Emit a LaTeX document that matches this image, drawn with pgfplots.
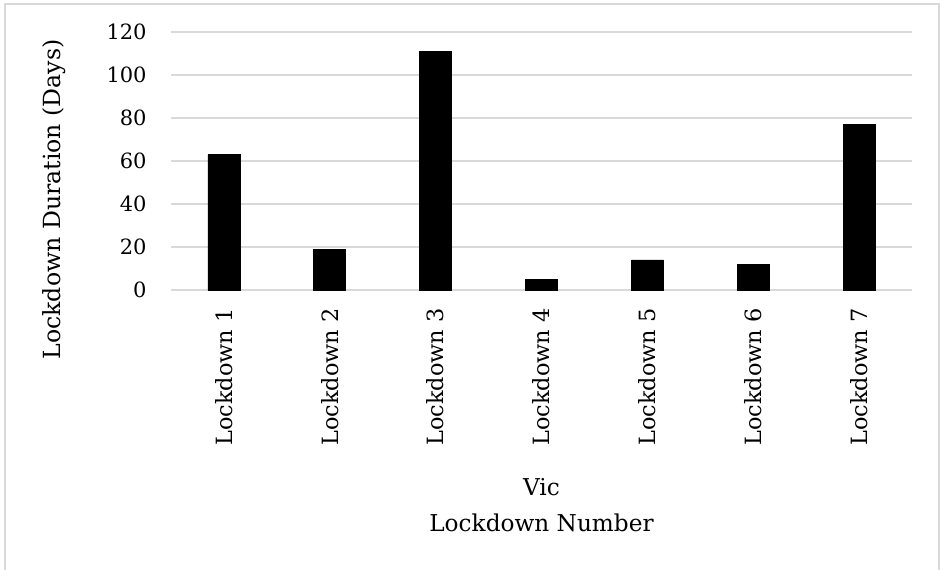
\documentclass[border=0pt]{standalone}
\usepackage{pgfplots}
\pgfplotsset{compat=1.18}
\usepackage{fontspec}
\setmainfont{DejaVu Serif}
\definecolor{gridgray}{HTML}{D9D9D9}
\begin{document}
\begin{tikzpicture}[x=1pt,y=1pt]
% page extent and chart-area frame
\path[use as bounding box] (-85.5,-139.5) rectangle (384.5,145);
\draw[gridgray, line width=0.9pt] (-83,-140) -- (-83,143) -- (384,143) -- (384,-140);
\begin{axis}[
  at={(0,0)}, anchor=south west,
  scale only axis,
  width=370.5pt, height=129pt,
  ybar, bar width=16pt,
  xmin=-0.5, xmax=6.5,
  ymin=0, ymax=120,
  ytick={0,20,...,120},
  xtick=data,
  xticklabels={Lockdown 1,Lockdown 2,Lockdown 3,Lockdown 4,Lockdown 5,Lockdown 6,Lockdown 7},
  major tick length=0pt,
  axis line style={draw=none},
  ymajorgrids,
  grid style={gridgray, line width=0.8pt},
  /pgf/number format/assume math mode=true,
  yticklabel style={anchor=east, inner sep=0pt, font=\fontsize{10.5}{12}\selectfont},
  yticklabel shift=12pt,
  xticklabel style={rotate=90, anchor=east, inner sep=0pt, font=\fontsize{11.2}{13}\selectfont},
  xticklabel shift=9pt,
  ylabel={Lockdown Duration (Days)},
  ylabel style={at={(axis description cs:-0.1575,0.351)}, anchor=center,
    font=\fontsize{11.8}{13}\selectfont},
  xlabel={Vic\\Lockdown Number},
  xlabel style={at={(axis description cs:0.5,-0.8333)}, anchor=center,
    align=center, font=\fontsize{11.6}{18}\selectfont},
]
\addplot[fill=black, draw=black, line width=0.3pt] coordinates {
  (0,63) (1,19) (2,111) (3,5) (4,14) (5,12) (6,77)
};
\end{axis}
\end{tikzpicture}
\end{document}
